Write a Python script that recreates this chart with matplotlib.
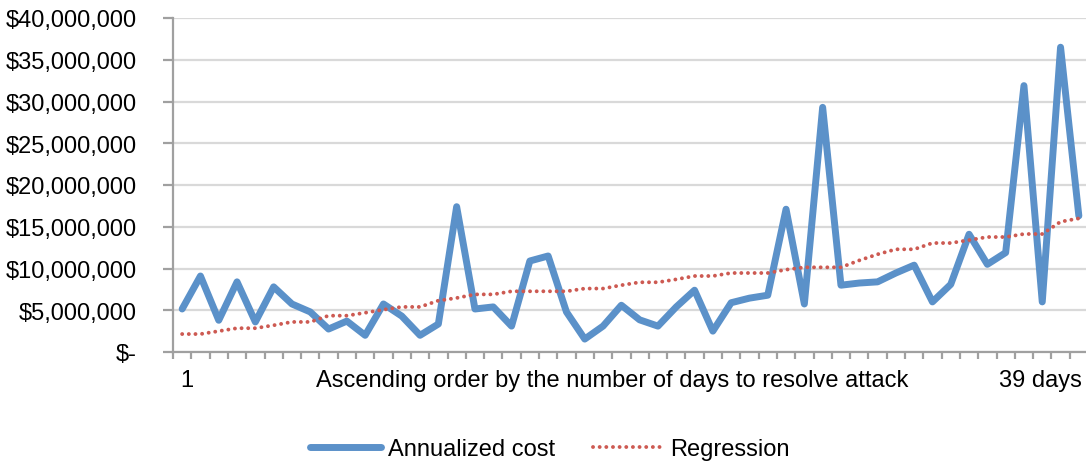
import matplotlib
matplotlib.use("Agg")
import matplotlib.pyplot as plt
import matplotlib.transforms as mtransforms
import numpy as np

# Annualized cost per attack, in ascending order of days to resolve
annualized_cost = [
    5.15, 9.1, 3.8, 8.4, 3.6, 7.8, 5.75, 4.8, 2.75, 3.7,
    2.0, 5.75, 4.3, 2.0, 3.35, 17.4, 5.15, 5.4, 3.1, 10.9,
    11.5, 4.8, 1.55, 3.1, 5.6, 3.85, 3.1, 5.4, 7.4, 2.5,
    5.9, 6.45, 6.8, 17.1, 5.75, 29.3, 8.0, 8.26, 8.4, 9.46,
    10.4, 6.0, 8.1, 14.1, 10.5, 11.9, 31.9, 6.0, 36.5, 16.3,
]
regression = [
    2.15, 2.15, 2.5, 2.85, 2.85, 3.2, 3.6, 3.6, 4.35, 4.35,
    4.7, 5.07, 5.4, 5.4, 6.15, 6.47, 6.9, 6.9, 7.27, 7.27,
    7.27, 7.27, 7.6, 7.6, 8.0, 8.35, 8.35, 8.7, 9.1, 9.1,
    9.46, 9.46, 9.46, 9.86, 10.14, 10.14, 10.14, 10.97, 11.7, 12.3,
    12.3, 13.05, 13.05, 13.4, 13.77, 13.77, 14.13, 14.13, 15.6, 16.0,
]
y_ticks = [0, 5, 10, 15, 20, 25, 30, 35, 40]
y_tick_labels = ["$-", "$5,000,000", "$10,000,000", "$15,000,000", "$20,000,000",
                 "$25,000,000", "$30,000,000", "$35,000,000", "$40,000,000"]

plt.rcParams['font.family'] = ['Liberation Sans', 'DejaVu Sans']
FS = 17

W, H = 1086, 464
fig = plt.figure(figsize=(W / 100, H / 100), dpi=100)
left, right, top, bottom = 173, 1088, 19, 353
ax = fig.add_axes([left / W, 1 - bottom / H, (right - left) / W, (bottom - top) / H])

x = np.arange(len(annualized_cost))
ax.plot(x, annualized_cost, color='#5b91c9', lw=5, solid_joinstyle='round',
        solid_capstyle='round', label='Annualized cost', zorder=3)
ax.plot(x, regression, color='#cd5a52', lw=2.8, linestyle=(0, (0.01, 1.7)),
        dash_capstyle='round', label='Regression', zorder=4)

ax.set_xlim(-0.5, len(x) - 0.5)
ax.set_ylim(0, 40)
ax.set_yticks(y_ticks)
ax.set_yticklabels(y_tick_labels)
ax.set_xticks(np.arange(-0.5, len(x), 1))
ax.set_xticklabels([])

ax.grid(axis='y', color='#d9d9d9', lw=1.6)
ax.set_axisbelow(True)
for s in ['top', 'right']:
    ax.spines[s].set_visible(False)
for s in ['left', 'bottom']:
    ax.spines[s].set_color('#a0a0a0')
    ax.spines[s].set_linewidth(1.6)
ax.tick_params(axis='y', length=7, width=1.6, color='#a0a0a0', labelsize=FS, pad=19)
ax.tick_params(axis='x', length=5, width=1.6, color='#a0a0a0')

trans = mtransforms.blended_transform_factory(ax.transData, ax.transAxes)
ypos = -28 / (bottom - top)
ax.text(0.25, ypos, "1", transform=trans, ha='center', va='center', fontsize=FS)
ax.text(23.5, ypos, "Ascending order by the number of days to resolve attack",
        transform=trans, ha='center', va='center', fontsize=FS)
ax.text(46.9, ypos, "39 days", transform=trans, ha='center', va='center', fontsize=FS)

fig.legend(loc='center', bbox_to_anchor=(550 / W, 1 - 450 / H), ncol=2, frameon=False,
           fontsize=FS, handlelength=3.0, handletextpad=0.3, columnspacing=1.6)

fig.savefig("out.png", dpi=100)
